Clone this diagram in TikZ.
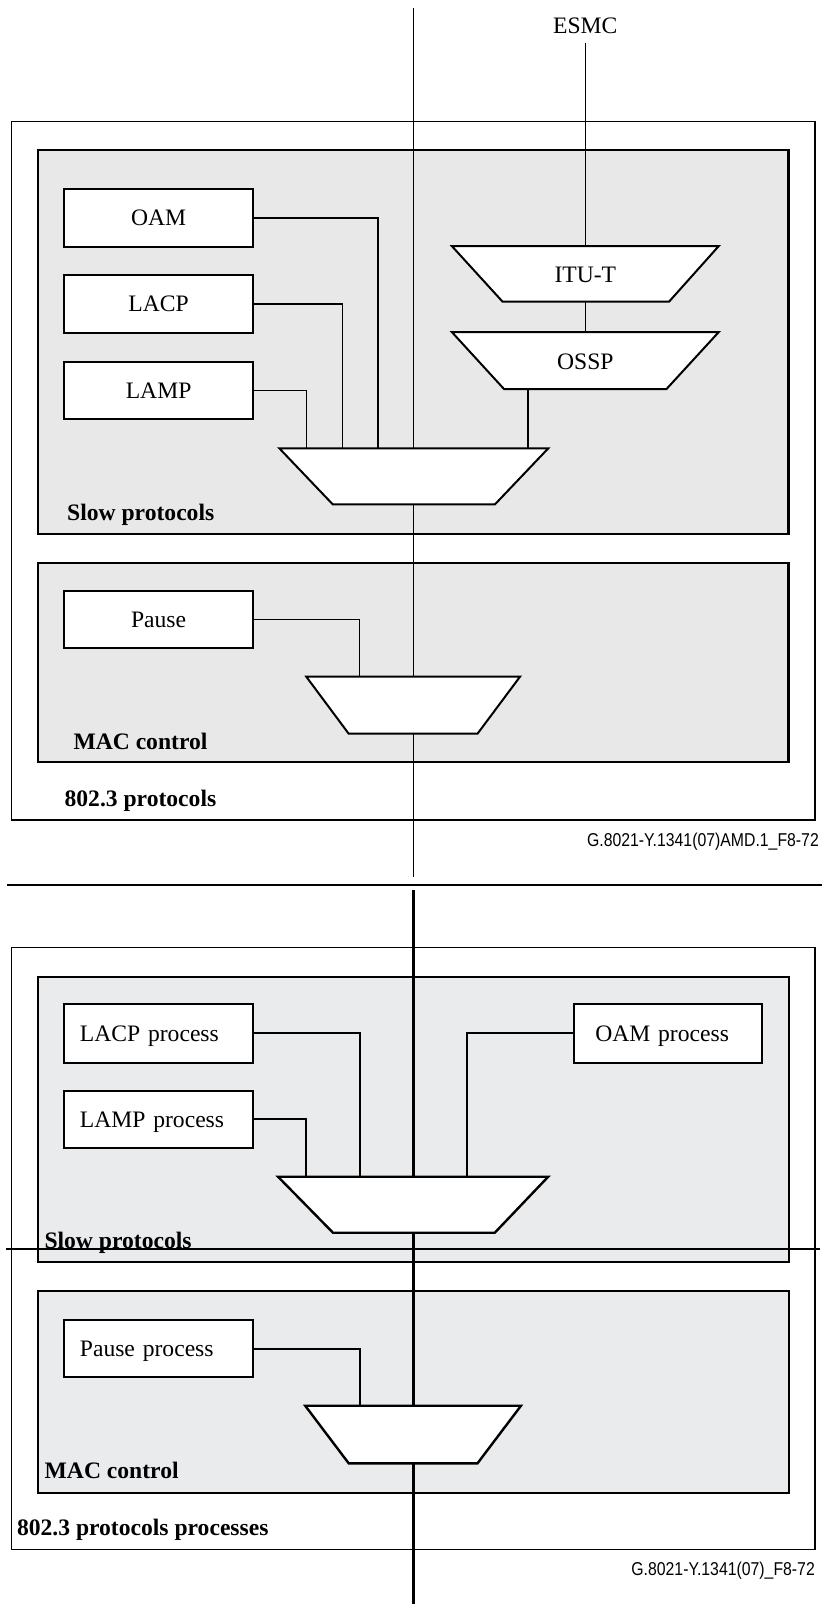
\documentclass[tikz,border=0pt]{standalone}
\usepackage{fontspec}
\setmainfont{Liberation Serif}
\newfontfamily\codefont[FakeStretch=0.85]{Liberation Sans}
\definecolor{panelA}{RGB}{232,232,232}
\definecolor{panelB}{RGB}{234,235,237}

\begin{document}
\begin{tikzpicture}[x=1pt,y=-1pt,
  outerframe/.style={draw, line width=1.5pt, fill=white},
  panelbox/.style={draw, line width=2.2pt},
  unitbox/.style={draw, line width=2.2pt, fill=white, inner sep=0pt,
    minimum width=188.5pt, text height=15.6pt, text depth=0pt,
    font=\fontsize{23.6}{28}\selectfont},
  procbox/.style={unitbox, text width=157pt, inner xsep=16pt, align=left},
  plainlabel/.style={inner sep=0pt, font=\fontsize{23.6}{28}\selectfont},
  grouplabel/.style={inner sep=0pt, anchor=base west,
    font=\fontsize{23.6}{28}\selectfont\bfseries},
  figcode/.style={inner sep=0pt, anchor=base east,
    font=\codefont\fontsize{18.6}{22}\selectfont},
  muxshape/.style={draw, line width=2pt, fill=white, line join=miter},
  thinwire/.style={line width=1.1pt},
  midwire/.style={line width=1.6pt},
  busA/.style={line width=1.7pt},
  boldwire/.style={line width=2pt},
  busB/.style={line width=2.5pt}
]
\useasboundingbox (0,0) rectangle (822,1604);
\fill[white] (0,0) rectangle (822,1604);

% ---------------- 802.3 protocols ----------------
\draw[outerframe] (11.5,121.7) rectangle (815,820);
\draw[panelbox, fill=panelA] (37.7,150) rectangle (788.5,533.7);
\draw[panelbox, fill=panelA] (37.7,562.7) rectangle (788.5,762);

% frame bus
\coordinate (busAtop) at (413.5,8.3);
\coordinate (busAbot) at (413.5,876.7);
\draw[busA] (busAtop) -- (busAbot);

% ESMC feed
\node[plainlabel, anchor=base] (esmc) at (585.3,33.3) {ESMC};
\coordinate (esmcfoot) at (585.3,42.7);
\coordinate (itutin) at (585.3,246);
\draw[midwire] (esmcfoot) -- (itutin);

% protocol entities
\node[unitbox, minimum height=58pt] (oam) at (158.6,218) {OAM};
\node[unitbox, minimum height=58pt] (lacp) at (158.6,304) {LACP};
\node[unitbox, minimum height=57pt] (lamp) at (158.6,390.5) {LAMP};
\node[unitbox, minimum height=57.3pt] (pause) at (158.6,619.7) {Pause};

% multiplexer inputs
\coordinate (m1oam) at (378,448.3);
\coordinate (m1lacp) at (342.4,448.3);
\coordinate (m1lamp) at (306.3,448.3);
\coordinate (m1ossp) at (528,448.3);
\coordinate (osspout) at (528,389);
\coordinate (itutout) at (585.3,301.7);
\coordinate (osspin) at (585.3,332);
\coordinate (m2pause) at (359.7,676.7);

\draw[thinwire] (oam.east) -| (m1oam);
\draw[thinwire] (lacp.east) -| (m1lacp);
\draw[thinwire] (lamp.east) -| (m1lamp);
\draw[midwire] (osspout) -- (m1ossp);
\draw[midwire] (itutout) -- (osspin);
\draw[thinwire] (pause.east) -| (m2pause);

% multiplexers
\draw[muxshape] (451.8,246) -- (718.8,246) -- (669,301.7) -- (502.6,301.7) -- cycle;
\node[plainlabel, anchor=base] (itut) at (585.3,282.7) {ITU-T};
\draw[muxshape] (451.8,332) -- (718.8,332) -- (666.5,389) -- (504,389) -- cycle;
\node[plainlabel, anchor=base] (ossp) at (585.3,369) {OSSP};
\draw[muxshape] (279.3,448.3) -- (548.3,448.3) -- (495,504.3) -- (332.7,504.3) -- cycle;
\draw[muxshape] (306.3,676.7) -- (520,676.7) -- (477.5,733.7) -- (348.7,733.7) -- cycle;

\node[grouplabel] (slowA) at (67,520) {Slow protocols};
\node[grouplabel] (macA) at (73.3,749.3) {MAC control};
\node[grouplabel] (protoA) at (64.4,806) {802.3 protocols};
\node[figcode] (codeA) at (819,846) {G.8021-Y.1341(07)AMD.1\_F8-72};

% separator
\coordinate (sepL) at (7,885);
\coordinate (sepR) at (822,885);
\draw[line width=2pt] (sepL) -- (sepR);

% ---------------- 802.3 protocols processes ----------------
\draw[outerframe] (11.5,947.7) rectangle (815,1549.3);
\draw[panelbox, fill=panelB] (37.7,976.7) rectangle (789,1262);
\draw[panelbox, fill=panelB] (37.7,1291) rectangle (789,1492.7);

\coordinate (busBtop) at (413.5,890);
\coordinate (busBbot) at (413.5,1604);
\draw[busB] (busBtop) -- (busBbot);

\node[procbox, minimum height=58.7pt] (lacpp) at (158.4,1033.3) {LACP process};
\node[procbox, minimum height=57.3pt] (lampp) at (158.4,1119.3) {LAMP process};
\node[procbox, minimum height=58.7pt, text width=145.5pt, inner xsep=21pt,
  minimum width=187.5pt] (oamp) at (668,1033.3) {OAM process};
\node[procbox, minimum height=57.3pt] (pausep) at (158.4,1348.7) {Pause process};

\coordinate (m3lacp) at (359.7,1176.7);
\coordinate (m3lamp) at (306.3,1176.7);
\coordinate (m3oam) at (467,1176.7);
\coordinate (m4pause) at (359.7,1405.7);

\draw[boldwire] (lacpp.east) -| (m3lacp);
\draw[boldwire] (lampp.east) -| (m3lamp);
\draw[boldwire] (oamp.west) -| (m3oam);
\draw[boldwire] (pausep.east) -| (m4pause);

\draw[muxshape, line width=2.4pt] (278,1176.7) -- (548.2,1176.7) -- (494.8,1232.7) -- (333,1232.7) -- cycle;
\draw[muxshape, line width=2.4pt] (305.2,1405.7) -- (521,1405.7) -- (477.5,1463.3) -- (348.7,1463.3) -- cycle;

\node[grouplabel] (slowB) at (44.3,1248) {Slow protocols};
\node[grouplabel] (macB) at (44.5,1478) {MAC control};
\node[grouplabel] (protoB) at (16.8,1535) {802.3 protocols processes};
\node[figcode] (codeB) at (815,1575) {G.8021-Y.1341(07)\_F8-72};

% horizontal rule across the lower figure
\coordinate (ruleL) at (6,1249);
\coordinate (ruleR) at (820,1249);
\draw[line width=1.4pt] (ruleL) -- (ruleR);
\end{tikzpicture}
\end{document}
